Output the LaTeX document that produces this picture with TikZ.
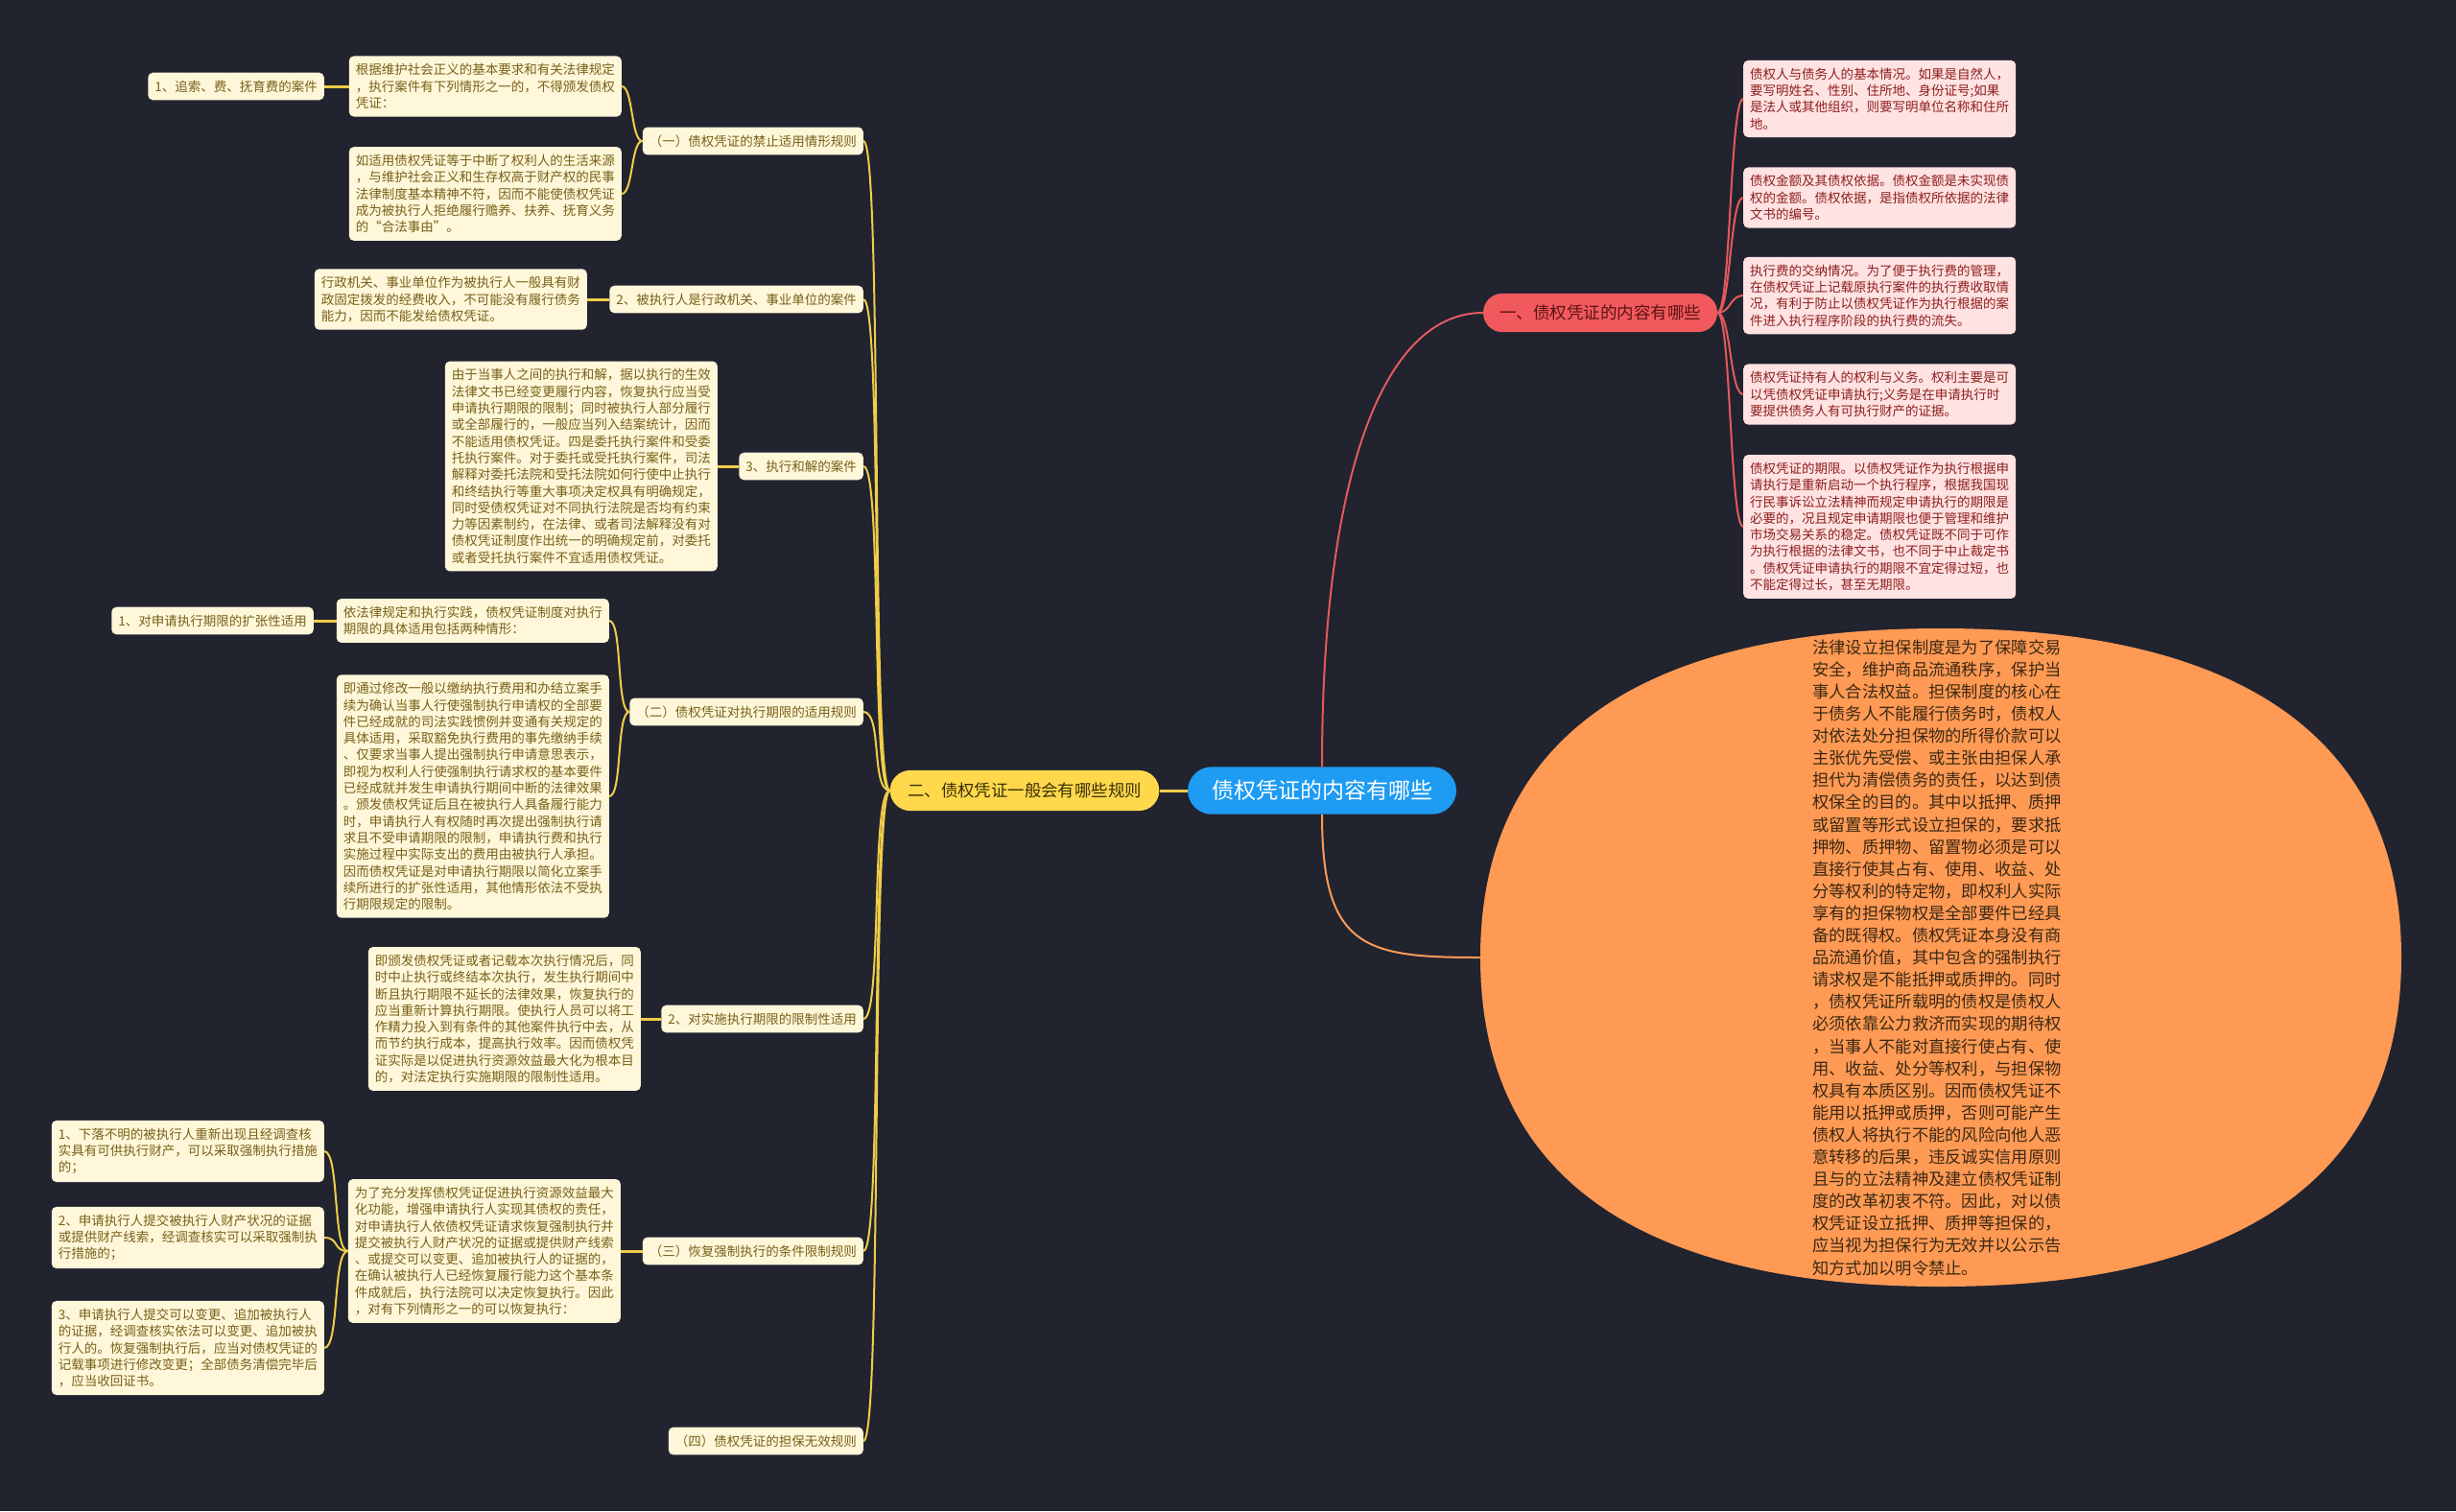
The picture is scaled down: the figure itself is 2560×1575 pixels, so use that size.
\documentclass[tikz,border=0pt]{standalone}
\usepackage{fontspec}
\newfontfamily\cjk{Noto Sans CJK SC}
\usetikzlibrary{shapes.geometric}
\definecolor{bgdark}{HTML}{21232F}
\definecolor{creamfill}{HTML}{FFF7D9}
\definecolor{creamtext}{HTML}{776018}
\definecolor{goldline}{HTML}{F0CD48}
\definecolor{pinkfill}{HTML}{FFE2E2}
\definecolor{pinktext}{HTML}{8E1E1E}
\definecolor{redline}{HTML}{E35A5D}
\definecolor{coralfill}{HTML}{F2595D}
\definecolor{coraltext}{HTML}{5A1414}
\definecolor{sunnyfill}{HTML}{FFD84C}
\definecolor{sunnytext}{HTML}{3A3005}
\definecolor{skyfill}{HTML}{1E9BF2}
\definecolor{orangefill}{HTML}{FF9A55}
\definecolor{orangetext}{HTML}{3B2812}
\tikzset{
	smalltext/.style={font=\cjk\fontsize{13.5}{17.3}\selectfont, align=left},
	leafbox/.style={smalltext, fill=creamfill, text=creamtext, rounded corners=5pt, inner xsep=7pt, inner ysep=8pt},
	pinkbox/.style={smalltext, fill=pinkfill, text=pinktext, rounded corners=5pt, inner xsep=7pt, inner ysep=8pt},
	ylink/.style={draw=goldline, line width=2pt},
	yshort/.style={draw=goldline, line width=3pt},
	rlink/.style={draw=redline, line width=2pt},
	olink/.style={draw=orangefill, line width=2pt}
}
\begin{document}
\begin{tikzpicture}[x=1pt, y=-1pt]
	\fill [bgdark] (0,0) rectangle (2560,1575);
	\useasboundingbox (0,0) rectangle (2560,1575);
	\node [ellipse, minimum width=960pt, minimum height=686pt, inner sep=0pt] (guar) at (2023,998) {};
	\fill [orangefill] (1543,998) .. controls (1543,772) and (1706,655) .. (2023,655)
		.. controls (2340,655) and (2503,772) .. (2503,998)
		.. controls (2503,1224) and (2340,1341) .. (2023,1341)
		.. controls (1706,1341) and (1543,1224) .. (1543,998) -- cycle;
	\node [font=\cjk\fontsize{17.3}{23.1}\selectfont, align=left, text=orangetext] (guartext) at (2019,998) {法律设立担保制度是为了保障交易\\安全，维护商品流通秩序，保护当\\事人合法权益。担保制度的核心在\\于债务人不能履行债务时，债权人\\对依法处分担保物的所得价款可以\\主张优先受偿、或主张由担保人承\\担代为清偿债务的责任，以达到债\\权保全的目的。其中以抵押、质押\\或留置等形式设立担保的，要求抵\\押物、质押物、留置物必须是可以\\直接行使其占有、使用、收益、处\\分等权利的特定物，即权利人实际\\享有的担保物权是全部要件已经具\\备的既得权。债权凭证本身没有商\\品流通价值，其中包含的强制执行\\请求权是不能抵押或质押的。同时\\，债权凭证所载明的债权是债权人\\必须依靠公力救济而实现的期待权\\，当事人不能对直接行使占有、使\\用、收益、处分等权利，与担保物\\权具有本质区别。因而债权凭证不\\能用以抵押或质押，否则可能产生\\债权人将执行不能的风险向他人恶\\意转移的后果，违反诚实信用原则\\且与的立法精神及建立债权凭证制\\度的改革初衷不符。因此，对以债\\权凭证设立抵押、质押等担保的，\\应当视为担保行为无效并以公示告\\知方式加以明令禁止。};
	\node [fill=skyfill, text=white, font=\cjk\fontsize{23}{28}\selectfont, rounded corners=25pt, inner xsep=25pt, inner ysep=14pt] (root) at (1378,824) {债权凭证的内容有哪些};
	\node [fill=coralfill, text=coraltext, font=\cjk\fontsize{17.5}{21}\selectfont, rounded corners=20pt, inner xsep=17pt, inner ysep=12pt] (one) at (1668,326) {一、债权凭证的内容有哪些};
	\node [fill=sunnyfill, text=sunnytext, font=\cjk\fontsize{17.4}{21}\selectfont, rounded corners=21pt, inner xsep=18.5pt, inner ysep=13pt] (two) at (1068,824) {二、债权凭证一般会有哪些规则};
	\node [pinkbox, anchor=west] (p1) at (1817,103) {债权人与债务人的基本情况。如果是自然人，\\要写明姓名、性别、住所地、身份证号;如果\\是法人或其他组织，则要写明单位名称和住所\\地。};
	\node [pinkbox, anchor=west] (p2) at (1817,206) {债权金额及其债权依据。债权金额是未实现债\\权的金额。债权依据，是指债权所依据的法律\\文书的编号。};
	\node [pinkbox, anchor=west] (p3) at (1817,308) {执行费的交纳情况。为了便于执行费的管理，\\在债权凭证上记载原执行案件的执行费收取情\\况，有利于防止以债权凭证作为执行根据的案\\件进入执行程序阶段的执行费的流失。};
	\node [pinkbox, anchor=west] (p4) at (1817,411) {债权凭证持有人的权利与义务。权利主要是可\\以凭债权凭证申请执行;义务是在申请执行时\\要提供债务人有可执行财产的证据。};
	\node [pinkbox, anchor=west] (p5) at (1817,549) {债权凭证的期限。以债权凭证作为执行根据申\\请执行是重新启动一个执行程序，根据我国现\\行民事诉讼立法精神而规定申请执行的期限是\\必要的，况且规定申请期限也便于管理和维护\\市场交易关系的稳定。债权凭证既不同于可作\\为执行根据的法律文书，也不同于中止裁定书\\。债权凭证申请执行的期限不宜定得过短，也\\不能定得过长，甚至无期限。};
	\node [leafbox, anchor=east] (l1) at (900,147) {（一）债权凭证的禁止适用情形规则};
	\node [leafbox, anchor=east] (l2) at (900,312) {2、被执行人是行政机关、事业单位的案件};
	\node [leafbox, anchor=east] (l3) at (900,486) {3、执行和解的案件};
	\node [leafbox, anchor=east] (l4) at (900,742) {（二）债权凭证对执行期限的适用规则};
	\node [leafbox, anchor=east] (l5) at (900,1062) {2、对实施执行期限的限制性适用};
	\node [leafbox, anchor=east] (l6) at (900,1304) {（三）恢复强制执行的条件限制规则};
	\node [leafbox, anchor=east] (l7) at (900,1502) {（四）债权凭证的担保无效规则};
	\node [leafbox, anchor=east] (a1) at (648,90) {根据维护社会正义的基本要求和有关法律规定\\，执行案件有下列情形之一的，不得颁发债权\\凭证：};
	\node [leafbox, anchor=east] (a0) at (338,90) {1、追索、费、抚育费的案件};
	\node [leafbox, anchor=east] (a2) at (648,202) {如适用债权凭证等于中断了权利人的生活来源\\，与维护社会正义和生存权高于财产权的民事\\法律制度基本精神不符，因而不能使债权凭证\\成为被执行人拒绝履行赡养、扶养、抚育义务\\的“合法事由”。};
	\node [leafbox, anchor=east] (b1) at (612,312) {行政机关、事业单位作为被执行人一般具有财\\政固定拨发的经费收入，不可能没有履行债务\\能力，因而不能发给债权凭证。};
	\node [leafbox, anchor=east] (c1) at (748,486) {由于当事人之间的执行和解，据以执行的生效\\法律文书已经变更履行内容，恢复执行应当受\\申请执行期限的限制；同时被执行人部分履行\\或全部履行的，一般应当列入结案统计，因而\\不能适用债权凭证。四是委托执行案件和受委\\托执行案件。对于委托或受托执行案件，司法\\解释对委托法院和受托法院如何行使中止执行\\和终结执行等重大事项决定权具有明确规定，\\同时受债权凭证对不同执行法院是否均有约束\\力等因素制约，在法律、或者司法解释没有对\\债权凭证制度作出统一的明确规定前，对委托\\或者受托执行案件不宜适用债权凭证。};
	\node [leafbox, anchor=east] (d1) at (635,647) {依法律规定和执行实践，债权凭证制度对执行\\期限的具体适用包括两种情形：};
	\node [leafbox, anchor=east] (d0) at (327,647) {1、对申请执行期限的扩张性适用};
	\node [leafbox, anchor=east] (d2) at (635,830) {即通过修改一般以缴纳执行费用和办结立案手\\续为确认当事人行使强制执行申请权的全部要\\件已经成就的司法实践惯例并变通有关规定的\\具体适用，采取豁免执行费用的事先缴纳手续\\、仅要求当事人提出强制执行申请意思表示，\\即视为权利人行使强制执行请求权的基本要件\\已经成就并发生申请执行期间中断的法律效果\\。颁发债权凭证后且在被执行人具备履行能力\\时，申请执行人有权随时再次提出强制执行请\\求且不受申请期限的限制，申请执行费和执行\\实施过程中实际支出的费用由被执行人承担。\\因而债权凭证是对申请执行期限以简化立案手\\续所进行的扩张性适用，其他情形依法不受执\\行期限规定的限制。};
	\node [leafbox, anchor=east] (e1) at (668,1062) {即颁发债权凭证或者记载本次执行情况后，同\\时中止执行或终结本次执行，发生执行期间中\\断且执行期限不延长的法律效果，恢复执行的\\应当重新计算执行期限。使执行人员可以将工\\作精力投入到有条件的其他案件执行中去，从\\而节约执行成本，提高执行效率。因而债权凭\\证实际是以促进执行资源效益最大化为根本目\\的，对法定执行实施期限的限制性适用。};
	\node [leafbox, anchor=east] (f1) at (647,1304) {为了充分发挥债权凭证促进执行资源效益最大\\化功能，增强申请执行人实现其债权的责任，\\对申请执行人依债权凭证请求恢复强制执行并\\提交被执行人财产状况的证据或提供财产线索\\、或提交可以变更、追加被执行人的证据的，\\在确认被执行人已经恢复履行能力这个基本条\\件成就后，执行法院可以决定恢复执行。因此\\，对有下列情形之一的可以恢复执行：};
	\node [leafbox, anchor=east] (g1) at (338,1200) {1、下落不明的被执行人重新出现且经调查核\\实具有可供执行财产，可以采取强制执行措施\\的；};
	\node [leafbox, anchor=east] (g2) at (338,1290) {2、申请执行人提交被执行人财产状况的证据\\或提供财产线索，经调查核实可以采取强制执\\行措施的；};
	\node [leafbox, anchor=east] (g3) at (338,1405) {3、申请执行人提交可以变更、追加被执行人\\的证据，经调查核实依法可以变更、追加被执\\行人的。恢复强制执行后，应当对债权凭证的\\记载事项进行修改变更；全部债务清偿完毕后\\，应当收回证书。};
	\draw [rlink] (root.north) .. controls +(0,-298) and +(-106,0) .. (one.west);
	\draw [olink] (root.south) .. controls +(0,140) and +(-120,0) .. (guar.west);
	\draw [yshort] (root.west) -- (two.east);
	\foreach \p in {p1,p2,p3,p4,p5}
		\draw [rlink] (one.east) .. controls +(14,0) and +(-14,0) .. (\p.west);
	\foreach \l in {l1,l2,l3,l4,l5,l6,l7}
		\draw [ylink] (two.west) .. controls +(-20,0) and +(20,0) .. (\l.east);
	\foreach \a in {a1,a2}
		\draw [ylink] (l1.west) .. controls +(-12,0) and +(12,0) .. (\a.east);
	\foreach \d in {d1,d2}
		\draw [ylink] (l4.west) .. controls +(-14,0) and +(14,0) .. (\d.east);
	\foreach \g in {g1,g2,g3}
		\draw [ylink] (f1.west) .. controls +(-16,0) and +(16,0) .. (\g.east);
	\draw [yshort] (a1.west) -- (a0.east);
	\draw [yshort] (l2.west) -- (b1.east);
	\draw [yshort] (l3.west) -- (c1.east);
	\draw [yshort] (d1.west) -- (d0.east);
	\draw [yshort] (l5.west) -- (e1.east);
	\draw [yshort] (l6.west) -- (f1.east);
\end{tikzpicture}
\end{document}
